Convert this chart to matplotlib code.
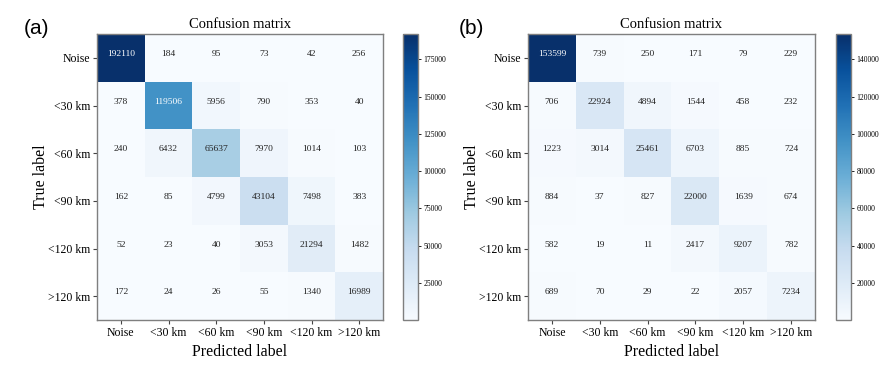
import numpy as np
import matplotlib
matplotlib.use("Agg")
import matplotlib.pyplot as plt

classes = ["Noise", "<30 km", "<60 km", "<90 km", "<120 km", ">120 km"]

cm_a = np.array([
    [192110, 184, 95, 73, 42, 256],
    [378, 119506, 5956, 790, 353, 40],
    [240, 6432, 65637, 7970, 1014, 103],
    [162, 85, 4799, 43104, 7498, 383],
    [52, 23, 40, 3053, 21294, 1482],
    [172, 24, 26, 55, 1340, 16989],
])

cm_b = np.array([
    [153599, 739, 250, 171, 79, 229],
    [706, 22924, 4894, 1544, 458, 232],
    [1223, 3014, 25461, 6703, 885, 724],
    [884, 37, 827, 22000, 1639, 674],
    [582, 19, 11, 2417, 9207, 782],
    [689, 70, 29, 22, 2057, 7234],
])

ticks_a = [25000, 50000, 75000, 100000, 125000, 150000, 175000]
ticks_b = [20000, 40000, 60000, 80000, 100000, 120000, 140000]

plt.rcParams['font.family'] = ['Liberation Serif', 'DejaVu Serif']

fig = plt.figure(figsize=(8.91, 3.70), dpi=100)
W, H = 891, 370

def px(x0, y0, x1, y1):
    return [x0 / W, 1 - y1 / H, (x1 - x0) / W, (y1 - y0) / H]

spine_c = '#7f7f7f'

def panel(cm, ax_box, cb_box, cticks, letter, letter_x):
    ax = fig.add_axes(px(*ax_box))
    cax = fig.add_axes(px(*cb_box))
    im = ax.imshow(cm, cmap='Blues', interpolation='nearest', aspect='auto',
                   vmin=cm.min(), vmax=cm.max())
    n = len(classes)
    ax.set_xticks(range(n))
    ax.set_yticks(range(n))
    ax.set_xticklabels(classes, fontsize=8.5)
    ax.set_yticklabels(classes, fontsize=8.5)
    ax.tick_params(length=3, width=0.8, color='#444444', pad=2)
    ax.set_title("Confusion matrix", fontsize=10.5, pad=4)
    ax.set_xlabel("Predicted label", fontsize=11.5, labelpad=4)
    ax.set_ylabel("True label", fontsize=11.5, labelpad=-1)
    for s in ax.spines.values():
        s.set_color(spine_c)
        s.set_linewidth(1.0)
    thresh = (cm.max() + cm.min()) / 2.0
    for i in range(n):
        for j in range(n):
            ax.text(j, i - 0.08, str(cm[i, j]), ha='center', va='center',
                    fontsize=6.8,
                    color='white' if cm[i, j] > thresh else '#222222')
    cb = fig.colorbar(im, cax=cax, ticks=cticks)
    cb.ax.tick_params(labelsize=5.5, length=2, width=0.6, pad=2)
    cb.outline.set_edgecolor(spine_c)
    cb.outline.set_linewidth(1.0)
    fig.text(letter_x / W, 1 - 28 / H, letter, fontsize=15,
             family=['Liberation Sans', 'DejaVu Sans'], ha='left', va='center')

panel(cm_a, (97, 34, 383, 320), (403, 34, 418, 320), ticks_a, "(a)", 24)
panel(cm_b, (528, 34, 815, 320), (836, 34, 851, 320), ticks_b, "(b)", 459)

fig.savefig("out.png", dpi=100)
